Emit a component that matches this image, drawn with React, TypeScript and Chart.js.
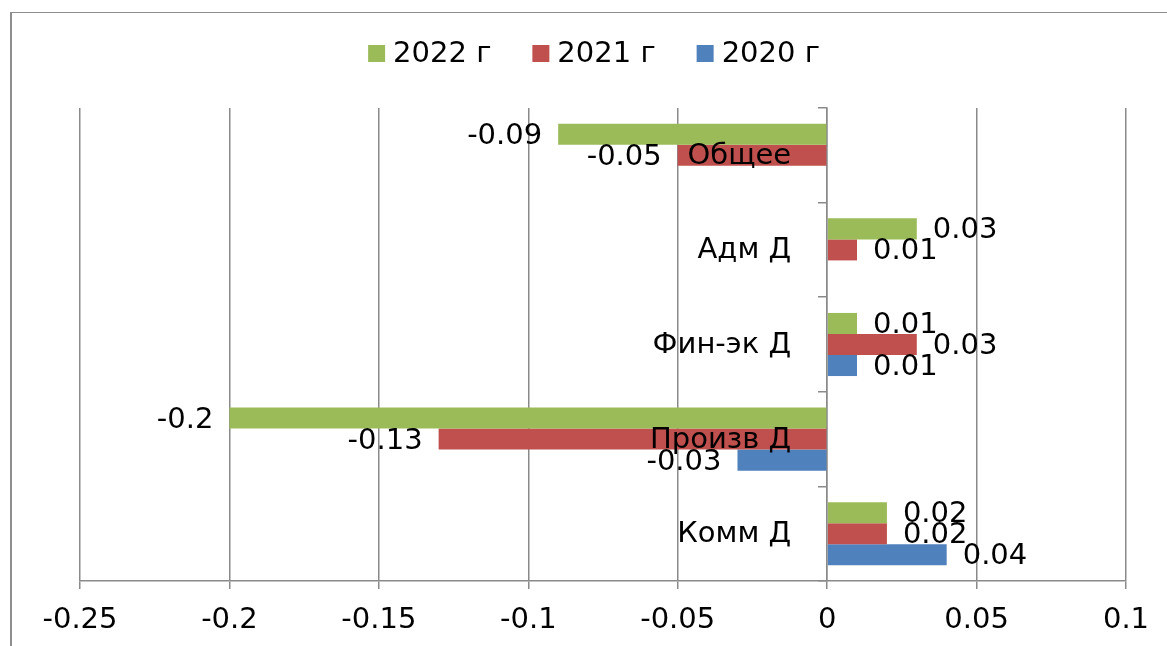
import { useEffect, useRef } from 'react';
import { Chart, registerables } from 'chart.js';

Chart.register(...registerables);

const categories = ['Общее', 'Адм Д', 'Фин-эк Д', 'Произв Д', 'Комм Д'];
const seriesNames = ['2022 г', '2021 г', '2020 г'];
const values2022 = [-0.09, 0.03, 0.01, -0.2, 0.02];
const values2021 = [-0.05, 0.01, 0.03, -0.13, 0.02];
const values2020 = [null, null, 0.01, -0.03, 0.04];
const xTicks = [-0.25, -0.2, -0.15, -0.1, -0.05, 0, 0.05, 0.1];
const seriesColors = ['#9BBB59', '#C0504D', '#4F81BD'];

const FONT_FAMILY = "'DejaVu Sans', Verdana, sans-serif";
const FONT_SIZE = 29;
const GRID = '#8a8a8a';

const legendPlugin = {
  id: 'customLegend',
  afterDraw(chart: any) {
    const ctx = chart.ctx;
    ctx.save();
    ctx.font = `${FONT_SIZE}px ${FONT_FAMILY}`;
    ctx.textBaseline = 'middle';
    ctx.textAlign = 'left';
    const box = 17;
    const gapBoxText = 8;
    const gapItems = 41;
    const items = chart.data.datasets.map((ds: any) => ({
      text: ds.label,
      color: ds.backgroundColor,
      w: ctx.measureText(ds.label).width,
    }));
    const total =
      items.reduce((s: number, it: any) => s + box + gapBoxText + it.w, 0) +
      gapItems * (items.length - 1);
    let x = 594 - total / 2;
    const cy = 53.5;
    items.forEach((it: any) => {
      ctx.fillStyle = it.color;
      ctx.fillRect(x, cy - box / 2, box, box);
      ctx.fillStyle = '#000';
      ctx.fillText(it.text, x + box + gapBoxText, cy + 1);
      x += box + gapBoxText + it.w + gapItems;
    });
    ctx.restore();
  },
};

const labelsPlugin = {
  id: 'valueLabels',
  afterDatasetsDraw(chart: any) {
    const ctx = chart.ctx;
    const xScale = chart.scales.x;
    const yScale = chart.scales.y;
    ctx.save();
    ctx.font = `${FONT_SIZE}px ${FONT_FAMILY}`;
    ctx.fillStyle = '#000';
    ctx.textBaseline = 'middle';
    const x0 = xScale.getPixelForValue(0);
    ctx.textAlign = 'right';
    chart.data.labels.forEach((lab: string, i: number) => {
      ctx.fillText(lab, x0 - 36, yScale.getPixelForTick(i) + 1);
    });
    chart.data.datasets.forEach((ds: any, di: number) => {
      const meta = chart.getDatasetMeta(di);
      meta.data.forEach((bar: any, i: number) => {
        const v = ds.data[i];
        if (v === null || v === undefined) return;
        if (v < 0) {
          ctx.textAlign = 'right';
          ctx.fillText(String(v), bar.x - 16, bar.y + 2);
        } else {
          ctx.textAlign = 'left';
          ctx.fillText(String(v), bar.x + 16, bar.y + 2);
        }
      });
    });
    ctx.restore();
  },
};

export default function App() {
  const canvasRef = useRef<HTMLCanvasElement | null>(null);

  useEffect(() => {
    if (!canvasRef.current) return;
    const font = { family: FONT_FAMILY, size: FONT_SIZE };
    const chart = new Chart(canvasRef.current, {
      type: 'bar',
      data: {
        labels: categories,
        datasets: [
          { label: seriesNames[0], data: values2022, backgroundColor: seriesColors[0] },
          { label: seriesNames[1], data: values2021, backgroundColor: seriesColors[1] },
          { label: seriesNames[2], data: values2020 as any, backgroundColor: seriesColors[2] },
        ],
      },
      options: {
        indexAxis: 'y',
        animation: false,
        responsive: false,
        devicePixelRatio: 1,
        datasets: { bar: { barPercentage: 1, categoryPercentage: 0.667, borderWidth: 0 } },
        layout: { padding: { left: 80, right: 41, top: 6, bottom: 0 } },
        plugins: {
          legend: { display: false },
          tooltip: { enabled: false },
        },
        scales: {
          x: {
            type: 'linear',
            position: 'bottom',
            min: -0.25,
            max: 0.1,
            afterBuildTicks: (s: any) => {
              s.ticks = xTicks.map((v) => ({ value: v }));
            },
            afterFit: (s: any) => {
              s.height = 65;
            },
            grid: { color: GRID, lineWidth: 1.5, drawTicks: true, tickLength: 8 },
            border: { display: true, color: GRID, width: 1.5 },
            ticks: {
              color: '#000',
              font,
              padding: 14,
              maxRotation: 0,
              autoSkip: false,
              callback: (v: any) => String(v),
            },
          },
          xTop: {
            type: 'linear',
            axis: 'x',
            position: 'top',
            display: true,
            grid: { display: false },
            border: { display: false },
            ticks: { display: false },
            afterFit: (s: any) => {
              s.height = 102;
            },
          },
          y: {
            type: 'category',
            position: { x: 0 } as any,
            grid: { drawOnChartArea: false, drawTicks: true, tickLength: 8, color: GRID, lineWidth: 1.5 },
            border: { display: true, color: GRID, width: 1.5 },
            ticks: { display: false },
          },
        },
      },
      plugins: [labelsPlugin, legendPlugin],
    } as any);
    return () => chart.destroy();
  }, []);

  return (
    <div style={{ position: 'fixed', left: 0, top: 0, width: 1167, height: 646, background: '#fff', overflow: 'hidden' }}>
      <div
        style={{
          position: 'absolute',
          left: 10,
          top: 12,
          width: 1200,
          height: 700,
          borderLeft: '2px solid #8e8e8e',
          borderTop: '1px solid #8e8e8e',
          boxSizing: 'border-box',
        }}
      />
      <canvas
        ref={canvasRef}
        width={1167}
        height={646}
        style={{ position: 'absolute', left: 0, top: 0, display: 'block', width: 1167, height: 646 }}
      />
    </div>
  );
}
